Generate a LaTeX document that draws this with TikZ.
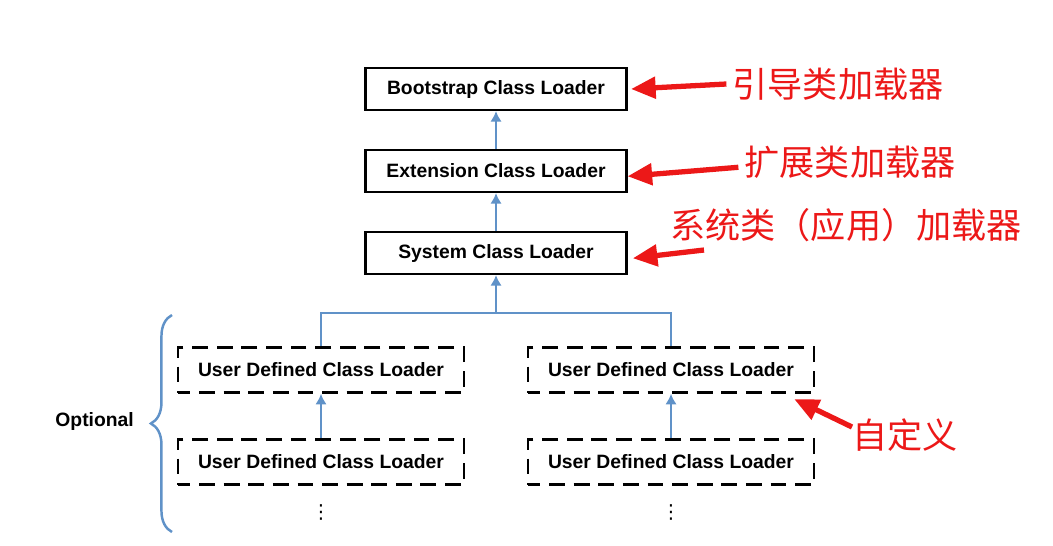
\documentclass[tikz,border=0pt]{standalone}
\usepackage{fontspec}
\setsansfont{Liberation Sans}
\newfontfamily\cjk{Noto Sans CJK SC}
\newfontfamily\symfont{DejaVu Sans}
\usepackage{tikz}
\usetikzlibrary{arrows.meta,positioning,calc,decorations.pathreplacing}
\usepackage{xcolor}
\definecolor{linkblue}{RGB}{96,146,200}
\definecolor{notered}{RGB}{236,24,24}

\begin{document}
\begin{tikzpicture}[x=0.02cm,y=-0.02cm,
    loader/.style={draw,line width=1.2pt,minimum width=5.22cm,minimum height=0.84cm,
        font=\sffamily\bfseries\fontsize{11}{13}\selectfont},
    userbox/.style={draw,line width=1.5pt,dash pattern=on 9pt off 5pt,dash phase=2pt,
        minimum width=5.72cm,minimum height=0.9cm,
        font=\sffamily\bfseries\fontsize{11}{13}\selectfont},
    uplink/.style={linkblue,line width=1.4pt,-{Latex[length=6pt,width=6.5pt]}},
    note/.style={text=notered,font=\cjk\fontsize{20}{22}\selectfont},
    pointer/.style={notered,line width=3pt,-{Triangle[length=14pt,width=12pt]}}]
                    \useasboundingbox (0,0) rectangle (1053,545);
                    % loader hierarchy
                    \node[loader] (boot) at (496,89) {Bootstrap Class Loader};
                    \node[loader] (ext) at (496,171) {Extension Class Loader};
                    \node[loader] (sys) at (496,253) {System Class Loader};
                    \node[userbox] (udA) at (321,370) {User Defined Class Loader};
                    \node[userbox] (udB) at (671,370) {User Defined Class Loader};
                    \node[userbox] (udC) at (321,462) {User Defined Class Loader};
                    \node[userbox] (udD) at (671,462) {User Defined Class Loader};
                    \node[font=\symfont\fontsize{11}{13}\selectfont] (dotsA) at (321,512) {⋮};
                    \node[font=\symfont\fontsize{11}{13}\selectfont] (dotsB) at (671,512) {⋮};
                    % blue links
                    \draw[uplink] (ext.north) -- (boot.south);
                    \draw[uplink] (sys.north) -- (ext.south);
                    \coordinate (join) at (496,313);
                    \draw[uplink] (join) -- (sys.south);
                    \draw[linkblue,line width=1.4pt] (udA.north) |- (join) -| (udB.north);
                    \draw[uplink] (udC.north) -- (udA.south);
                    \draw[uplink] (udD.north) -- (udB.south);
                    % optional brace
                    \coordinate (braceLow) at (172,532);
                    \coordinate (braceTop) at (172,315);
                    \draw[linkblue,line width=1.4pt,decorate,decoration={brace,amplitude=12pt}] (braceLow) -- (braceTop);
                    \node[font=\sffamily\bfseries\fontsize{11}{13}\selectfont,anchor=east] (opt) at (140,421) {Optional};
                    % red notes
                    \node[note] (bootNote) at (838,84) {引导类加载器};
                    \node[note] (extNote) at (850,162) {扩展类加载器};
                    \node[note] (sysNote) at (846,225) {系统类（应用）加载器};
                    \node[note] (udNote) at (905,435) {自定义};
                    \draw[pointer] (bootNote.west) -- ([xshift=2pt]boot.east);
                    \draw[pointer] ([yshift=-3pt]extNote.west) -- ([yshift=-3pt]ext.east);
                    \coordinate (sysTail) at (704,250);
                    \draw[pointer] (sysTail) -- ([xshift=3pt,yshift=-3pt]sys.east);
                    \coordinate (udTail) at (852,427);
                    \draw[pointer] (udTail) -- ([xshift=-12pt,yshift=-3pt]udB.south east);
                \end{tikzpicture}
\end{document}
